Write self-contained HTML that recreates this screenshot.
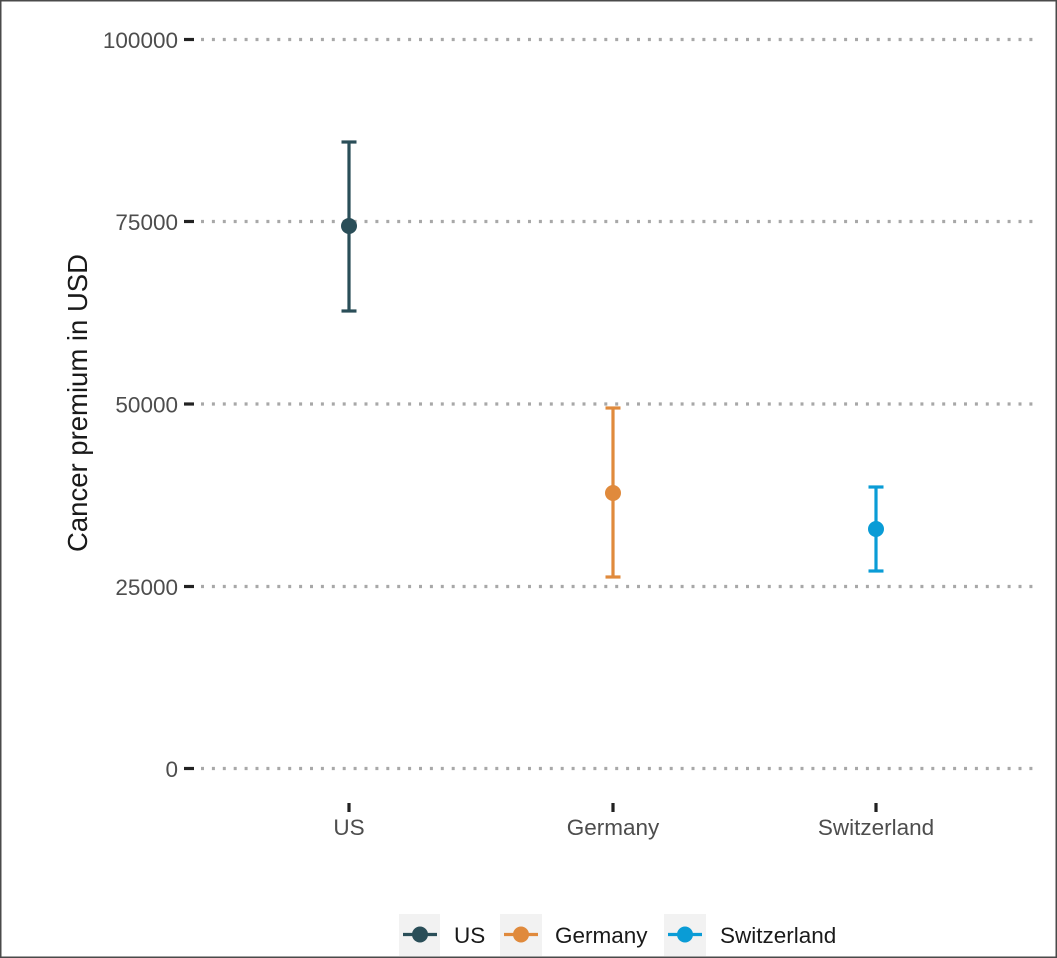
<!DOCTYPE html>
<html>
<head>
<meta charset="utf-8">
<style>
html,body{margin:0;padding:0;background:#fff;}
svg{display:block;}
text{font-family:"Liberation Sans",Arial,sans-serif;}
</style>
</head>
<body>
<svg width="1057" height="958" viewBox="0 0 1057 958" xmlns="http://www.w3.org/2000/svg">
<rect x="0" y="0" width="1057" height="958" fill="#fff"/>
<!-- border -->
<rect x="0.75" y="0.75" width="1055.5" height="956.5" fill="none" stroke="#4a4a4a" stroke-width="1.5"/>

<!-- gridlines -->
<g stroke="#a8a8a8" stroke-width="3.2" stroke-dasharray="3 7.9">
<line x1="201" y1="39.5" x2="1033" y2="39.5"/>
<line x1="201" y1="221.5" x2="1033" y2="221.5"/>
<line x1="201" y1="404" x2="1033" y2="404"/>
<line x1="201" y1="586.5" x2="1033" y2="586.5"/>
<line x1="201" y1="768.5" x2="1033" y2="768.5"/>
</g>

<!-- y ticks -->
<g stroke="#222" stroke-width="3.2">
<line x1="184" y1="39.5" x2="194" y2="39.5"/>
<line x1="184" y1="221.5" x2="194" y2="221.5"/>
<line x1="184" y1="404" x2="194" y2="404"/>
<line x1="184" y1="586.5" x2="194" y2="586.5"/>
<line x1="184" y1="768.5" x2="194" y2="768.5"/>
</g>
<g font-size="22.5" fill="#4d4d4d" text-anchor="end">
<text x="178" y="48">100000</text>
<text x="178" y="230">75000</text>
<text x="178" y="412.5">50000</text>
<text x="178" y="595">25000</text>
<text x="178" y="777">0</text>
</g>

<!-- x ticks -->
<g stroke="#222" stroke-width="3.2">
<line x1="349" y1="803" x2="349" y2="812"/>
<line x1="613" y1="803" x2="613" y2="812"/>
<line x1="876" y1="803" x2="876" y2="812"/>
</g>
<g font-size="22.5" fill="#4d4d4d" text-anchor="middle">
<text x="349" y="835">US</text>
<text x="613" y="835">Germany</text>
<text x="876" y="835">Switzerland</text>
</g>

<!-- y title -->
<text transform="translate(87,403) rotate(-90)" font-size="27.5" fill="#1a1a1a" text-anchor="middle">Cancer premium in USD</text>

<!-- US -->
<g stroke="#2a4e58" stroke-width="3.2" fill="#2a4e58">
<line x1="349" y1="142" x2="349" y2="311"/>
<line x1="341.5" y1="142" x2="356.5" y2="142"/>
<line x1="341.5" y1="311" x2="356.5" y2="311"/>
<circle cx="349" cy="226" r="8" stroke="none"/>
</g>
<!-- Germany -->
<g stroke="#e08a3c" stroke-width="3.2" fill="#e08a3c">
<line x1="613" y1="408" x2="613" y2="577"/>
<line x1="605.5" y1="408" x2="620.5" y2="408"/>
<line x1="605.5" y1="577" x2="620.5" y2="577"/>
<circle cx="613" cy="493" r="8" stroke="none"/>
</g>
<!-- Switzerland -->
<g stroke="#0a9cd6" stroke-width="3.2" fill="#0a9cd6">
<line x1="876" y1="487" x2="876" y2="571"/>
<line x1="868.5" y1="487" x2="883.5" y2="487"/>
<line x1="868.5" y1="571" x2="883.5" y2="571"/>
<circle cx="876" cy="529" r="8" stroke="none"/>
</g>

<!-- legend -->
<rect x="399" y="914" width="41" height="42" fill="#f2f2f2"/>
<rect x="500" y="914" width="42" height="42" fill="#f2f2f2"/>
<rect x="664" y="914" width="42" height="42" fill="#f2f2f2"/>
<g stroke-width="3.2">
<line x1="403" y1="934.5" x2="437" y2="934.5" stroke="#2a4e58"/>
<line x1="504" y1="934.5" x2="538" y2="934.5" stroke="#e08a3c"/>
<line x1="668" y1="934.5" x2="702" y2="934.5" stroke="#0a9cd6"/>
</g>
<circle cx="420" cy="934.5" r="8" fill="#2a4e58"/>
<circle cx="521" cy="934.5" r="8" fill="#e08a3c"/>
<circle cx="685" cy="934.5" r="8" fill="#0a9cd6"/>
<g font-size="22.5" fill="#1a1a1a">
<text x="454" y="943">US</text>
<text x="555" y="943">Germany</text>
<text x="720" y="943">Switzerland</text>
</g>
</svg>
</body>
</html>
